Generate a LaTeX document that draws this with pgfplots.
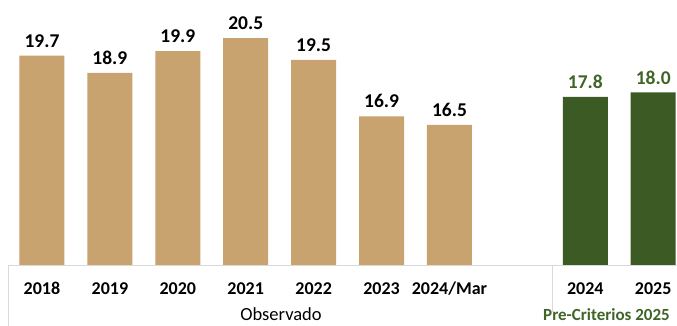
\documentclass[border=0pt]{standalone}
\usepackage{pgfplots}
\pgfplotsset{compat=1.18}
\usepackage{fontspec}
\setmainfont{Carlito}
\definecolor{tan}{HTML}{C8A26F}
\definecolor{dgreen}{HTML}{3B5A24}
\definecolor{lgreen}{HTML}{406428}
\definecolor{lgray}{HTML}{D9D9D9}
\begin{document}
\begin{tikzpicture}[x=1pt,y=1pt]
\useasboundingbox (0,0) rectangle (677,326);
\begin{axis}[
  at={(8pt,60pt)}, anchor=south west,
  scale only axis, width=669pt, height=266pt,
  xmin=-0.5, xmax=9.35, ymin=10, ymax=22.26,
  axis line style={draw=none},
  ytick=\empty,
  xtick={0,1,2,3,4,5,6,8,9},
  xticklabels={2018,2019,2020,2021,2022,2023,2024/Mar,2024,2025},
  major tick length=0pt,
  xticklabel style={font=\fontsize{18}{18}\selectfont\bfseries, anchor=base, inner sep=0pt, yshift=-29pt},
  ybar, bar width=45pt,
  /pgf/number format/assume math mode=true,
  /pgf/number format/.cd, fixed, fixed zerofill, precision=1, /pgfplots/.cd,
  nodes near coords,
  every node near coord/.append style={font=\fontsize{19.5}{19.5}\selectfont\bfseries, anchor=south, inner sep=0pt, yshift=8pt},
  clip=false,
]
\addplot[fill=tan, draw=none, bar shift=0pt, nodes near coords style={text=black}] coordinates {(0,19.7) (1,18.9) (2,19.9) (3,20.5) (4,19.5) (5,16.9) (6,16.5)};
\addplot[fill=dgreen, draw=none, bar shift=0pt, nodes near coords style={text=lgreen}] coordinates {(8,17.8) (9,18.0)};
\end{axis}
\draw[lgray, line width=1pt] (8,60) -- (677,60);
\draw[lgray, line width=1pt] (8,60) -- (8,0);
\draw[lgray, line width=1pt] (552,60) -- (552,14);
\node[anchor=base, inner sep=0pt, font=\fontsize{18.5}{18.5}\selectfont] at (281,5) {Observado};
\node[anchor=base west, inner sep=0pt, font=\fontsize{17}{17}\selectfont\bfseries, text=lgreen] at (543,5) {Pre-Criterios 2025};
\end{tikzpicture}
\end{document}
